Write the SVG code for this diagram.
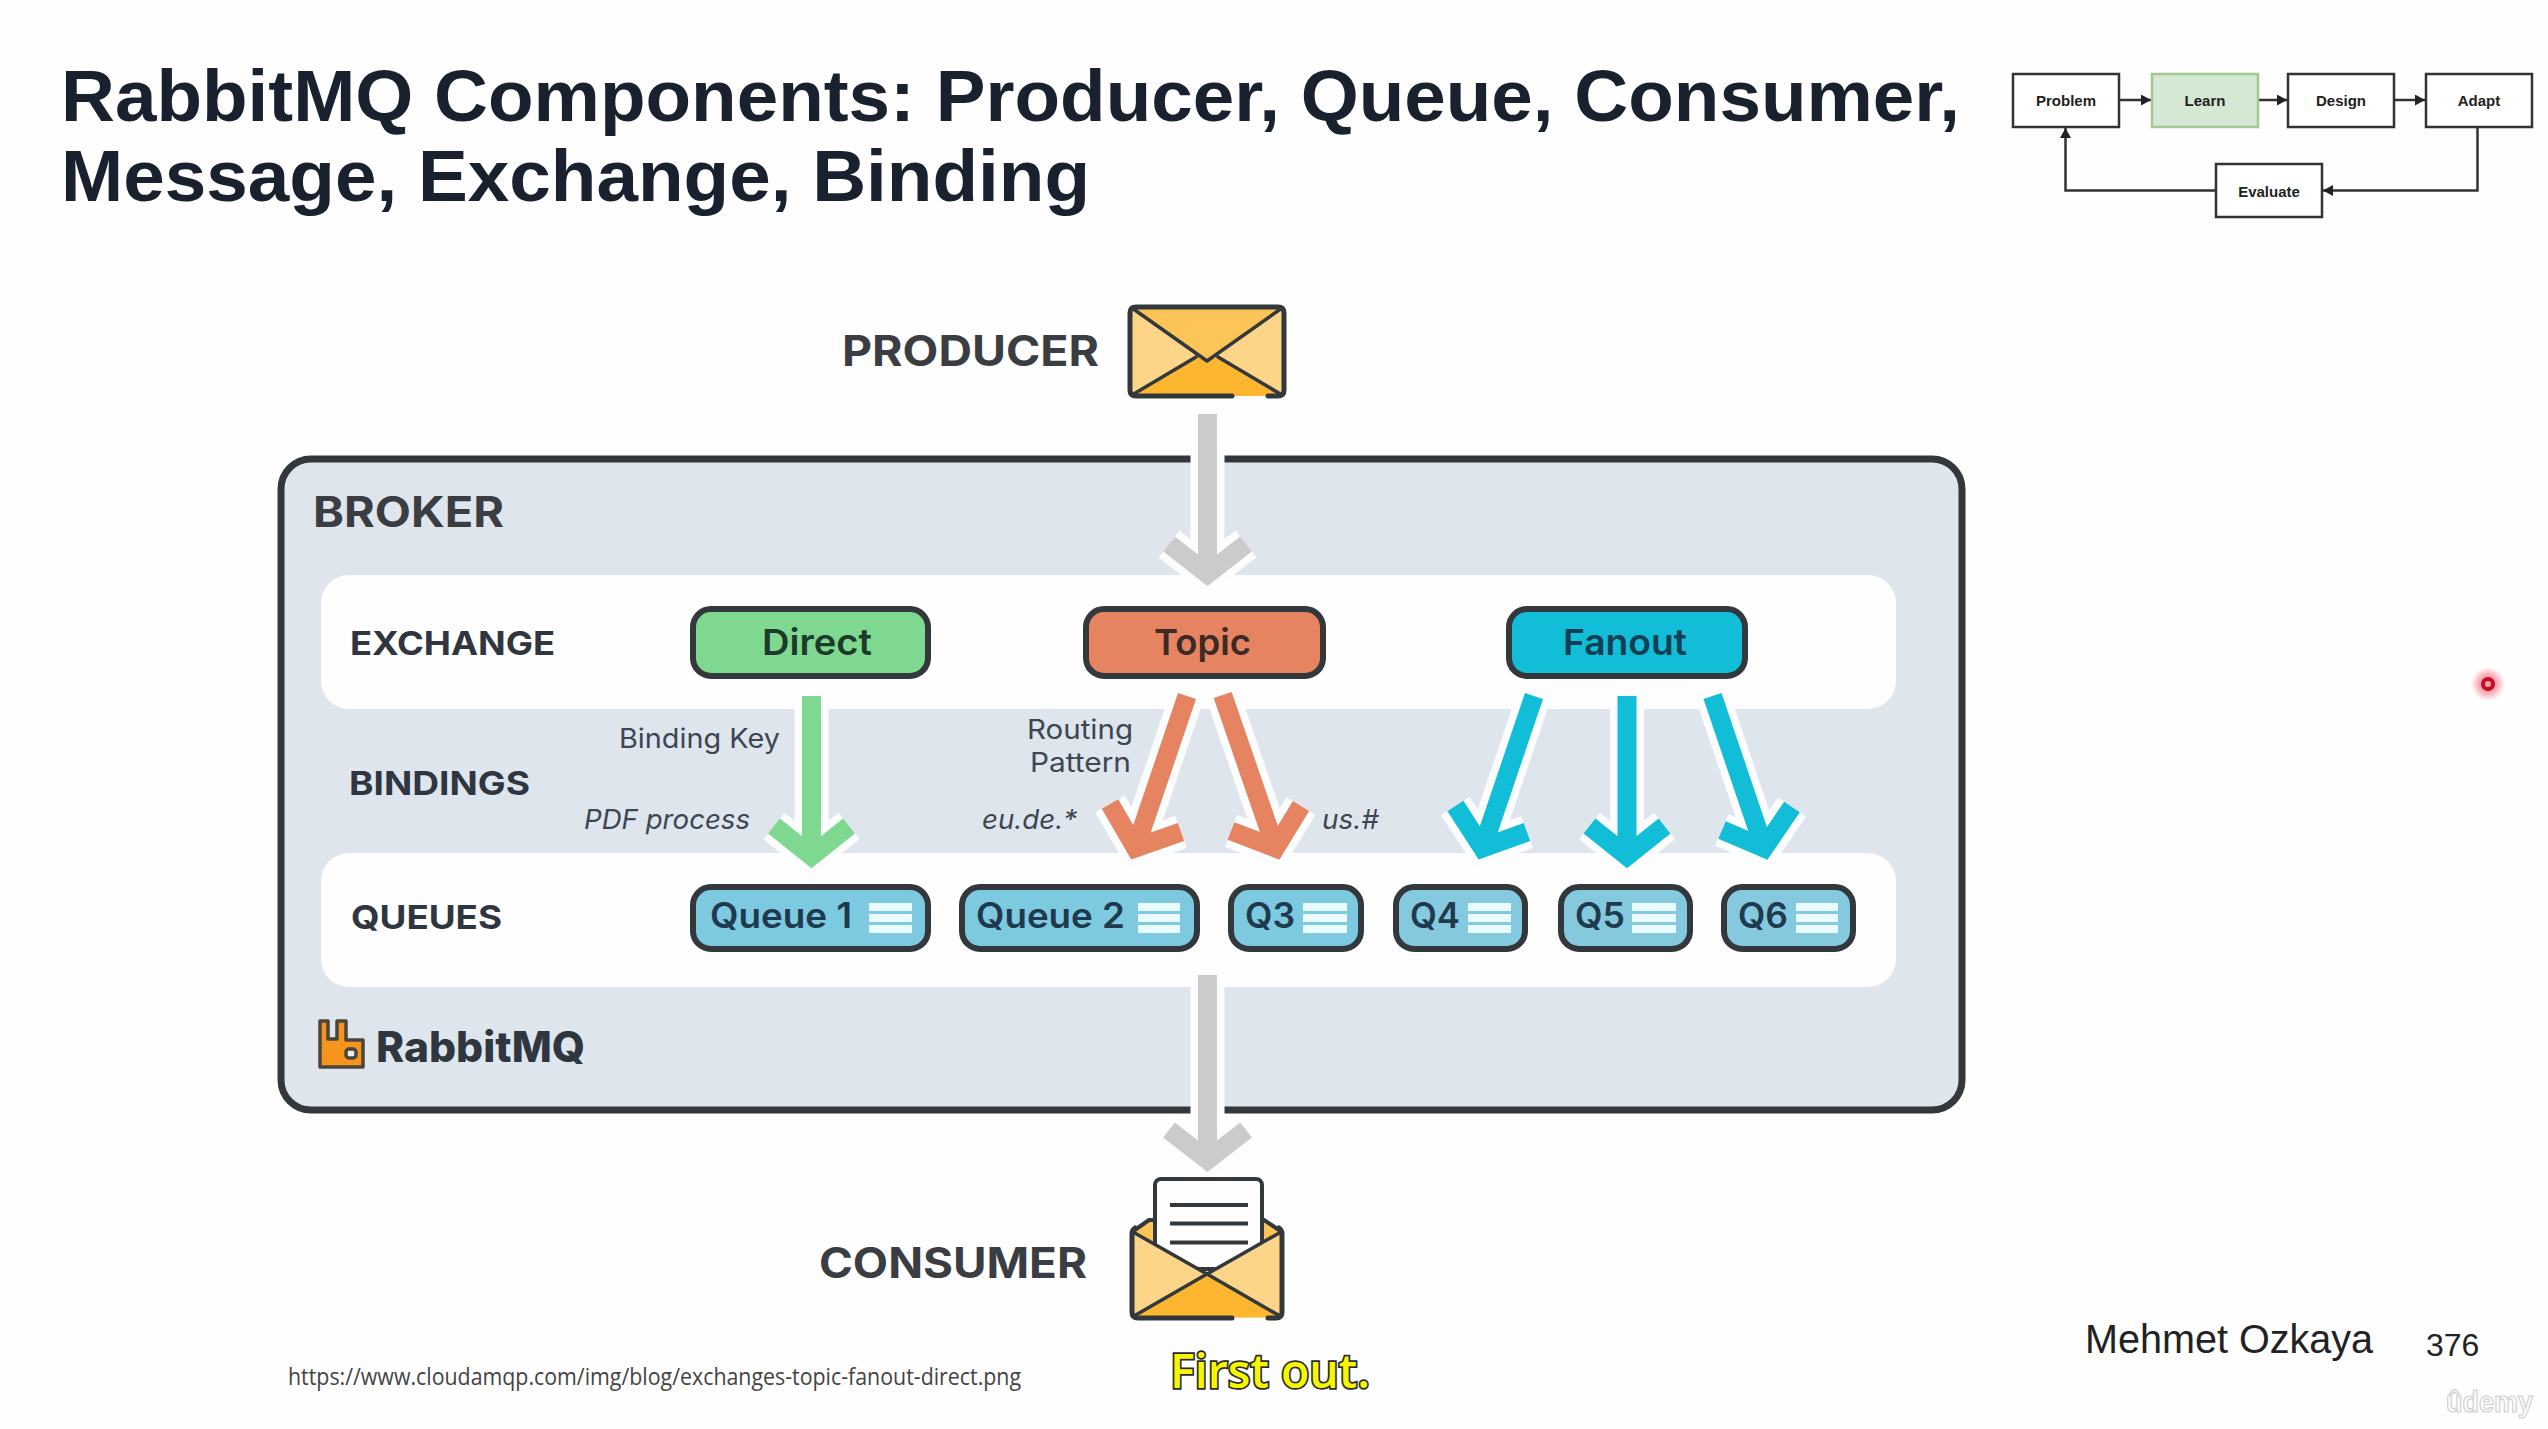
<svg xmlns="http://www.w3.org/2000/svg" width="2548" height="1429" viewBox="0 0 2548 1429">
<style>
text{font-family:"Inter","Liberation Sans",sans-serif}
.arial{font-family:"Liberation Sans",Arial,sans-serif}
.title{font-size:72px;font-weight:700;fill:#18212d}
.role{font-size:42px;font-weight:700;fill:#3a3d41}
.sec{font-size:33px;font-weight:700;fill:#2f3640}
.ex{font-size:36px;font-weight:600}
.q{font-size:35px;font-weight:600;fill:#1f3a4c}
.lab{font-size:27px;font-weight:400;fill:#3d4653}
.it{font-style:italic}
.box{stroke:#33383c;stroke-width:6}
.qbox{fill:#7cc9e0;stroke:#33383c;stroke-width:6}
.qbox2{fill:#85c9de;stroke:#33383c;stroke-width:6}
.bar{fill:#e9fbfd}
.halo,.shaft{fill:none;stroke-linejoin:miter;stroke-miterlimit:8}
.halo{stroke:#fbfdfe;stroke-width:34}
.shaft{stroke-width:19}
.grey{stroke:#cbcbcb}.green{stroke:#7fd890}.orange{stroke:#e68462}.cyan{stroke:#12bdd8}
.mini{fill:#fff;stroke:#333;stroke-width:2.5}
.mt{font-family:"Liberation Sans",Arial,sans-serif;font-size:15px;font-weight:700;fill:#222;text-anchor:middle}
.ml{fill:none;stroke:#333;stroke-width:2.5;marker-end:url(#tip)}
.env{stroke:#33383c;stroke-width:5;stroke-linejoin:round;stroke-linecap:round;fill:none}
.env2{stroke:#33383c;stroke-width:3.5;stroke-linejoin:round;stroke-linecap:round;fill:none}
</style>
<defs>
<marker id="tip" markerUnits="userSpaceOnUse" markerWidth="11" markerHeight="11" refX="10" refY="5.5" orient="auto"><path d="M0 0L10 5.5L0 11Z" fill="#222"/></marker>
<radialGradient id="glow"><stop offset="0.3" stop-color="#f0203a" stop-opacity="0.55"/><stop offset="1" stop-color="#f0203a" stop-opacity="0"/></radialGradient>
</defs>
<rect width="2548" height="1429" fill="#fefefe"/>
<g id="title">
<text class="title arial" x="61" y="121" textLength="1899" lengthAdjust="spacingAndGlyphs">RabbitMQ Components: Producer, Queue, Consumer,</text>
<text class="title arial" x="61" y="201" textLength="1029" lengthAdjust="spacingAndGlyphs">Message, Exchange, Binding</text>
</g>
<g id="broker">
<rect x="281" y="459" width="1681" height="651" rx="30" fill="#dee5ed" stroke="#33383c" stroke-width="7"/>
<text class="role" x="313" y="527" textLength="191" lengthAdjust="spacingAndGlyphs">BROKER</text>
<rect id="exchange-band" x="321" y="575" width="1575" height="134" rx="28" fill="#fefefe"/>
<rect id="queues-band" x="321" y="853" width="1575" height="134" rx="28" fill="#fefefe"/>
<text class="sec" x="350" y="655" textLength="205" lengthAdjust="spacingAndGlyphs">EXCHANGE</text>
<text class="sec" x="349" y="795" textLength="181" lengthAdjust="spacingAndGlyphs">BINDINGS</text>
<text class="sec" x="351" y="929" textLength="151" lengthAdjust="spacingAndGlyphs">QUEUES</text>
</g>
<g id="connectors">
<path class="halo" d="M1207.5 414V574M1169 544L1207.5 574L1246 544"/>
<path class="shaft grey" d="M1207.5 414V574M1169 544L1207.5 574L1246 544"/>
<path class="halo" d="M1207.5 975V1160M1169 1130L1207.5 1160L1246 1130"/>
<path class="shaft grey" d="M1207.5 975V1160M1169 1130L1207.5 1160L1246 1130"/>
<path class="halo" d="M811.5 696V856M774 826L811.5 856L849 826"/>
<path class="shaft green" d="M811.5 696V856M774 826L811.5 856L849 826"/>
<path class="halo" d="M1187 696L1135.5 848M1110 804L1135.5 848L1181 832"/>
<path class="shaft orange" d="M1187 696L1135.5 848M1110 804L1135.5 848L1181 832"/>
<path class="halo" d="M1222.7 695L1275.4 848M1301 806L1275.4 848L1231 831"/>
<path class="shaft orange" d="M1222.7 695L1275.4 848M1301 806L1275.4 848L1231 831"/>
<path class="halo" d="M1534 696L1482.5 848M1455.4 806L1482.5 848L1527 832"/>
<path class="shaft cyan" d="M1534 696L1482.5 848M1455.4 806L1482.5 848L1527 832"/>
<path class="halo" d="M1627 696V856M1589.5 826L1627 856L1664.5 826"/>
<path class="shaft cyan" d="M1627 696V856M1589.5 826L1627 856L1664.5 826"/>
<path class="halo" d="M1712.5 696L1764 848M1792 807L1764 848L1722 830"/>
<path class="shaft cyan" d="M1712.5 696L1764 848M1792 807L1764 848L1722 830"/>
<path class="ml" d="M2120 100H2151"/>
<path class="ml" d="M2259 100H2287"/>
<path class="ml" d="M2395 100H2425"/>
<path class="ml" d="M2477.5 128V190.5H2323"/>
<path class="ml" d="M2215 190.5H2065.5V128"/>
</g>
<g id="producer">
<text class="role" x="842" y="366" textLength="257" lengthAdjust="spacingAndGlyphs">PRODUCER</text>
<rect x="1130" y="307" width="154" height="89" rx="6" fill="#fdd588"/>
<path d="M1132 308H1282L1207 361Z" fill="#fdc458"/>
<path d="M1132 396L1196 357L1207 361L1218 357L1282 396Z" fill="#fcb630"/>
<path class="env" d="M1232 396H1136Q1130 396 1130 390V313Q1130 307 1136 307H1278Q1284 307 1284 313V390Q1284 396 1278 396H1268"/>
<path class="env2" d="M1132 308L1207 361L1282 308M1132 395L1196 357M1218 357L1282 395"/>
</g>
<g id="consumer">
<text class="role" x="819" y="1278" textLength="268" lengthAdjust="spacingAndGlyphs">CONSUMER</text>
<path d="M1132 1232L1149 1220H1264L1282 1232V1260H1132Z" fill="#fdc458" stroke="#33383c" stroke-width="4" stroke-linejoin="round"/>
<rect x="1155" y="1179" width="107" height="90" rx="6" fill="#fefefe" stroke="#33383c" stroke-width="4"/>
<path d="M1170 1205H1248M1170 1223.5H1248M1170 1242.5H1248" stroke="#33383c" stroke-width="4" fill="none"/>
<path d="M1132 1232L1207 1274L1282 1232V1312Q1282 1318 1276 1318H1138Q1132 1318 1132 1312Z" fill="#fdd588"/>
<path d="M1134 1317L1207 1274L1280 1317Z" fill="#fcb630"/>
<path class="env" d="M1232 1318H1138Q1132 1318 1132 1312V1234Q1132 1230 1135 1228M1279 1228Q1282 1230 1282 1234V1312Q1282 1318 1276 1318H1268"/>
<path class="env2" d="M1133 1232L1207 1274L1280 1316M1281 1232L1207 1274L1134 1316"/>
</g>
<g id="direct"><rect class="box" x="693" y="609" width="235" height="67" rx="18" fill="#7fd890"/><text class="ex" x="762" y="655" fill="#1d3a2b" textLength="110" lengthAdjust="spacingAndGlyphs">Direct</text></g>
<g id="topic"><rect class="box" x="1086" y="609" width="237" height="67" rx="18" fill="#e68462"/><text class="ex" x="1154" y="655" fill="#3b2a25" textLength="97" lengthAdjust="spacingAndGlyphs">Topic</text></g>
<g id="fanout"><rect class="box" x="1509" y="609" width="236" height="67" rx="18" fill="#12bdd8"/><text class="ex" x="1563" y="655" fill="#143f52" textLength="124" lengthAdjust="spacingAndGlyphs">Fanout</text></g>
<g id="queue1"><rect class="qbox" x="693" y="887" width="235" height="62" rx="18"/><text class="q" x="710" y="928" textLength="142" lengthAdjust="spacingAndGlyphs">Queue 1</text><path class="bar" d="M869 903h43v8h-43zM869 914h43v8h-43zM869 925h43v8h-43z"/></g>
<g id="queue2"><rect class="qbox" x="962" y="887" width="235" height="62" rx="18"/><text class="q" x="976" y="928" textLength="149" lengthAdjust="spacingAndGlyphs">Queue 2</text><path class="bar" d="M1138 903h42v8h-42zM1138 914h42v8h-42zM1138 925h42v8h-42z"/></g>
<g id="q3"><rect class="qbox" x="1231" y="887" width="130" height="62" rx="18"/><text class="q" x="1245" y="928" textLength="50" lengthAdjust="spacingAndGlyphs">Q3</text><path class="bar" d="M1303 903h44v8h-44zM1303 914h44v8h-44zM1303 925h44v8h-44z"/></g>
<g id="q4"><rect class="qbox2" x="1396" y="887" width="129" height="62" rx="18"/><text class="q" x="1410" y="928" textLength="50" lengthAdjust="spacingAndGlyphs">Q4</text><path class="bar" d="M1468 903h43v8h-43zM1468 914h43v8h-43zM1468 925h43v8h-43z"/></g>
<g id="q5"><rect class="qbox2" x="1561" y="887" width="129" height="62" rx="18"/><text class="q" x="1575" y="928" textLength="50" lengthAdjust="spacingAndGlyphs">Q5</text><path class="bar" d="M1632 903h44v8h-44zM1632 914h44v8h-44zM1632 925h44v8h-44z"/></g>
<g id="q6"><rect class="qbox2" x="1724" y="887" width="129" height="62" rx="18"/><text class="q" x="1738" y="928" textLength="50" lengthAdjust="spacingAndGlyphs">Q6</text><path class="bar" d="M1796 903h42v8h-42zM1796 914h42v8h-42zM1796 925h42v8h-42z"/></g>
<g id="labels">
<text class="lab" x="619" y="748" textLength="161" lengthAdjust="spacingAndGlyphs">Binding Key</text>
<text class="lab it" x="584" y="829" textLength="166" lengthAdjust="spacingAndGlyphs">PDF process</text>
<text class="lab" x="1027" y="739" textLength="106" lengthAdjust="spacingAndGlyphs">Routing</text>
<text class="lab" x="1030" y="772" textLength="101" lengthAdjust="spacingAndGlyphs">Pattern</text>
<text class="lab it" x="982" y="829" textLength="95" lengthAdjust="spacingAndGlyphs">eu.de.*</text>
<text class="lab it" x="1322" y="829" textLength="57" lengthAdjust="spacingAndGlyphs">us.#</text>
</g>
<g id="rabbitmq-logo">
<path d="M320 1021H328V1039H337V1021H346V1040H363V1067H320Z" fill="#f7941e" stroke="#4a4638" stroke-width="3.5" stroke-linejoin="round"/>
<rect x="346" y="1049" width="10" height="9" rx="3" fill="#eee" stroke="#4a4638" stroke-width="3.5"/>
<text x="376" y="1062" font-size="42" font-weight="800" fill="#2f3640" textLength="209" lengthAdjust="spacingAndGlyphs">RabbitMQ</text>
</g>
<g id="flow-problem"><rect class="mini" x="2013" y="74" width="106" height="53"/><text class="mt" x="2066" y="106">Problem</text></g>
<g id="flow-learn"><rect class="mini" style="fill:#d5e8d4;stroke:#a4c893" x="2152" y="74" width="106" height="53"/><text class="mt" x="2205" y="106">Learn</text></g>
<g id="flow-design"><rect class="mini" x="2288" y="74" width="106" height="53"/><text class="mt" x="2341" y="106">Design</text></g>
<g id="flow-adapt"><rect class="mini" x="2426" y="74" width="106" height="53"/><text class="mt" x="2479" y="106">Adapt</text></g>
<g id="flow-evaluate"><rect class="mini" x="2216" y="164" width="106" height="53"/><text class="mt" x="2269" y="197">Evaluate</text></g>
<g id="footer">
<text x="288" y="1385" font-size="23" fill="#444" style="font-family:'Open Sans',sans-serif" textLength="733" lengthAdjust="spacingAndGlyphs">https://www.cloudamqp.com/img/blog/exchanges-topic-fanout-direct.png</text>
<text x="1170" y="1388" font-size="47" font-weight="600" fill="#f6f600" stroke="#2a2a2a" stroke-width="3.5" paint-order="stroke" style="font-family:'Open Sans',sans-serif" textLength="200" lengthAdjust="spacingAndGlyphs">First out.</text>
<text class="arial" x="2085" y="1353" font-size="40" fill="#222" textLength="288" lengthAdjust="spacingAndGlyphs">Mehmet Ozkaya</text>
<text class="arial" x="2426" y="1356" font-size="32" fill="#222">376</text>
<text class="arial" x="2446" y="1412" font-size="30" font-weight="700" fill="#fbfbfb" stroke="#cfcfcf" stroke-width="1.2" textLength="87" lengthAdjust="spacingAndGlyphs">ûdemy</text>
</g>
<g id="pointer">
<circle cx="2488" cy="684" r="17" fill="url(#glow)"/>
<circle cx="2488" cy="684" r="5" fill="#f6a0a8" stroke="#c00f28" stroke-width="4"/>
</g>
</svg>
